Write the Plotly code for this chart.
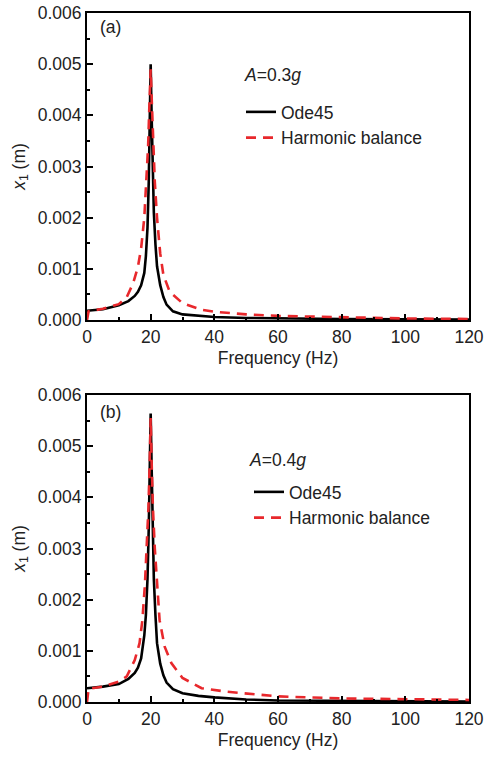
import plotly.graph_objects as go

# ---------------- data ----------------
freq_ode_a = [0, 5, 10, 13, 15, 16, 17, 18, 18.5, 19, 19.4, 19.7, 20, 20.3, 20.6, 21, 21.5, 22, 23, 24, 25, 27, 30, 35, 40, 50, 60, 80, 100, 120]
ode_a = [0.00018, 0.00021, 0.00029, 0.00037, 0.00047, 0.00055, 0.00068, 0.00092, 0.00125, 0.0018, 0.0027, 0.0038, 0.0050,
         0.0040, 0.0030, 0.0021, 0.00148, 0.00105, 0.00068, 0.00045, 0.00030, 0.00017, 0.00011, 0.00008, 0.00006, 0.00004,
         0.00003, 0.00002, 0.000015, 0.00001]

freq_hb_a = [0, 0.5, 5, 10, 12.5, 14.5, 16, 17, 18, 18.7, 19.2, 19.6, 20, 20.4, 20.8, 21.3, 22, 23, 24, 26, 30, 36, 40, 45, 50, 60, 80, 100, 120]
hb_a = [0.0, 0.00017, 0.00022, 0.00031, 0.00045, 0.00072, 0.00104, 0.0014, 0.0020, 0.0027, 0.0034, 0.0042, 0.0049,
        0.0042, 0.0034, 0.0027, 0.0020, 0.0013, 0.00088, 0.00055, 0.00033, 0.0002, 0.00016, 0.00013, 0.00011, 0.00008,
        0.00005, 0.00003, 0.00002]

freq_ode_b = [0, 5, 10, 13, 15, 16, 17, 18, 18.5, 19, 19.4, 19.7, 20, 20.3, 20.6, 21, 21.5, 22, 23, 24, 25, 27, 30, 35, 40, 50, 60, 80, 100, 120]
ode_b = [0.00027, 0.0003, 0.00035, 0.00045, 0.00057, 0.00067, 0.00085, 0.0013, 0.0017, 0.0024, 0.0034, 0.0046, 0.00564,
         0.0046, 0.0034, 0.0024, 0.0017, 0.00115, 0.00075, 0.00052, 0.00038, 0.00025, 0.00017, 0.00012, 0.00009, 0.00005,
         0.00003, 0.00002, 0.000015, 0.00001]

freq_hb_b = [0, 0.5, 5, 10, 12.5, 15, 16.5, 17.4, 18.2, 18.8, 19.3, 19.7, 20, 20.3, 20.7, 21.3, 22, 22.8, 24.4, 26.5, 30, 36, 44, 52, 60, 80, 100, 120]
hb_b = [0.0, 0.00026, 0.0003, 0.0004, 0.0005, 0.00082, 0.00115, 0.0016, 0.0023, 0.003, 0.0038, 0.0047, 0.00555,
        0.0047, 0.0038, 0.003, 0.0023, 0.0016, 0.00108, 0.00076, 0.00047, 0.00027, 0.0002, 0.00016, 0.00011,
        0.00007, 0.00005, 0.00004]

panel_labels = ["(a)", "(b)"]
amp_labels = ["<i>A</i>=0.3<i>g</i>", "<i>A</i>=0.4<i>g</i>"]
series_names = ["Ode45", "Harmonic balance"]
x_tickvals = [0, 20, 40, 60, 80, 100, 120]
y_tickvals = [0.0, 0.001, 0.002, 0.003, 0.004, 0.005, 0.006]

# ---------------- figure ----------------
FONT = "Liberation Sans, Arial, sans-serif"
FS = 17.5
W, H = 485, 757
fig = go.Figure()

black = dict(color="black", width=2.6)
red = dict(color="#e8282c", width=2.6, dash="10px,7px")

fig.add_trace(go.Scatter(x=freq_ode_a, y=ode_a, mode="lines", line=black, name=series_names[0],
                         xaxis="x", yaxis="y", legend="legend"))
fig.add_trace(go.Scatter(x=freq_hb_a, y=hb_a, mode="lines", line=red, name=series_names[1],
                         xaxis="x", yaxis="y", legend="legend"))
fig.add_trace(go.Scatter(x=freq_ode_b, y=ode_b, mode="lines", line=black, name=series_names[0],
                         xaxis="x2", yaxis="y2", legend="legend2"))
fig.add_trace(go.Scatter(x=freq_hb_b, y=hb_b, mode="lines", line=red, name=series_names[1],
                         xaxis="x2", yaxis="y2", legend="legend2"))

x_dom = [87 / W, 469 / W]
y_dom_top = [1 - 320 / H, 1 - 13 / H]
y_dom_bot = [1 - 702 / H, 1 - 395 / H]

def xax(anchor):
    return dict(domain=x_dom, anchor=anchor, range=[0, 120], tickvals=x_tickvals, automargin=False,
                ticks="inside", ticklen=6, tickwidth=1.5, tickcolor="black",
                minor=dict(dtick=10, tick0=0, ticks="inside", ticklen=3, tickwidth=1.5, tickcolor="black"),
                showline=True, linecolor="black", linewidth=2, mirror=True, showgrid=False, zeroline=False,
                tickfont=dict(family=FONT, size=FS, color="#222"),
                title=dict(text="Frequency (Hz)", font=dict(family=FONT, size=FS, color="#222"), standoff=6))

def yax(anchor, dom):
    return dict(domain=dom, anchor=anchor, range=[0, 0.006], tickvals=y_tickvals, tickformat=".3f", automargin=False,
                ticks="inside", ticklen=6, tickwidth=1.5, tickcolor="black",
                minor=dict(dtick=0.0005, tick0=0, ticks="inside", ticklen=3, tickwidth=1.5, tickcolor="black"),
                showline=True, linecolor="black", linewidth=2, mirror=True, showgrid=False, zeroline=False,
                tickfont=dict(family=FONT, size=FS, color="#222"),
                title=dict(text="<i>x</i><sub>1</sub> (m)", font=dict(family=FONT, size=FS, color="#222"), standoff=8))

leg_common = dict(bgcolor="rgba(0,0,0,0)", borderwidth=0, font=dict(family=FONT, size=FS, color="#222"),
                  xanchor="left", yanchor="top", tracegroupgap=0, itemwidth=30)

fig.update_layout(
    width=W, height=H, margin=dict(l=0, r=0, t=0, b=0),
    paper_bgcolor="white", plot_bgcolor="white",
    xaxis=xax("y"), yaxis=yax("x", y_dom_top),
    xaxis2=xax("y2"), yaxis2=yax("x2", y_dom_bot),
    legend=dict(x=241 / W, y=1 - 94 / H, **leg_common),
    legend2=dict(x=249 / W, y=1 - 474 / H, **leg_common),
    showlegend=True,
)

annots = [
    dict(text=panel_labels[0], xref="x domain", yref="y domain", x=0.028, y=0.955, xanchor="left", yanchor="middle"),
    dict(text=amp_labels[0], xref="x domain", yref="y domain", x=0.405, y=0.798, xanchor="left", yanchor="middle"),
    dict(text=panel_labels[1], xref="x2 domain", yref="y2 domain", x=0.028, y=0.945, xanchor="left", yanchor="middle"),
    dict(text=amp_labels[1], xref="x2 domain", yref="y2 domain", x=0.418, y=0.788, xanchor="left", yanchor="middle"),
]
for a in annots:
    a.update(showarrow=False, font=dict(family=FONT, size=FS, color="#222"))
fig.update_layout(annotations=annots)

fig.write_html("out.html", config={"displayModeBar": False},
               post_script="document.body.style.margin='0';document.body.style.overflow='hidden';")
